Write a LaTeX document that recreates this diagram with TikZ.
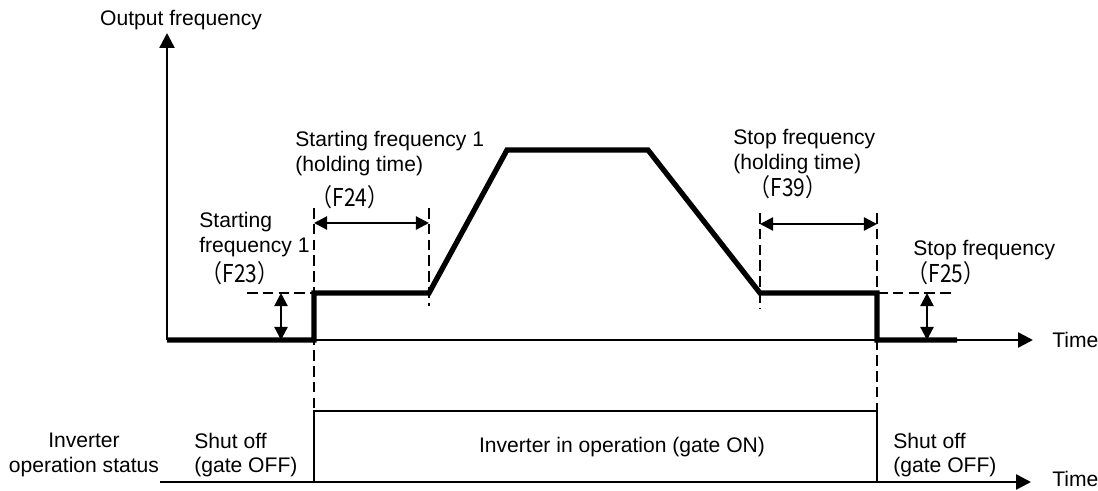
\documentclass[tikz,border=0pt]{standalone}
\usepackage{fontspec}
\setmainfont{Liberation Sans}
\newfontfamily\cjk[FakeStretch=0.85]{Noto Sans CJK JP}
\usetikzlibrary{positioning,calc,arrows.meta}

\tikzset{
  axis/.style={line width=1.4pt, -{Triangle[length=8.5pt,width=8.5pt]}},
  wave/.style={line width=3pt, line join=miter},
  guide/.style={line width=1.3pt, dash pattern=on 6pt off 3pt},
  span/.style={line width=1.3pt, {Triangle[length=7.5pt,width=7.5pt]}-{Triangle[length=7.5pt,width=7.5pt]}},
  lbl/.style={inner sep=0pt, align=left},
  code/.style={inner sep=0pt, font=\cjk\fontsize{14}{16}\selectfont},
}

\begin{document}
\begin{tikzpicture}[x=0.02cm, y=-0.02cm, font=\fontsize{12}{14}\selectfont]
  \useasboundingbox (0,0) rectangle (1098,490);

  % Frequency axes
  \coordinate (o) at (167,340);
  \coordinate (ytop) at (167,33);
  \coordinate (xend) at (1033,340);
  \draw[axis] (o) -- (ytop);
  \draw[axis] (o) -- (xend);
  \node (ylab) at (181,20) {Output frequency};
  \node[anchor=west, inner sep=0pt] (xlab) at (1052,340) {Time};

  % Output frequency curve
  \coordinate (s0) at (314,340);
  \coordinate (s1) at (314,293);
  \coordinate (s2) at (429,293);
  \coordinate (p1) at (507,150);
  \coordinate (p2) at (648,150);
  \coordinate (e1) at (760,293);
  \coordinate (e2) at (877,293);
  \coordinate (e0) at (877,340);
  \coordinate (e3) at (957,340);
  \draw[wave] (o) -- (s0) -- (s1) -- (s2) -- (p1) -- (p2) -- (e1) -- (e2) -- (e0) -- (e3);

  % Guides
  \coordinate (g1) at (314,208);
  \coordinate (g1b) at (314,411);
  \coordinate (g2) at (429,208);
  \coordinate (g2b) at (429,306);
  \coordinate (g3) at (760,213);
  \coordinate (g3b) at (760,308);
  \coordinate (g4) at (877,213);
  \coordinate (g4b) at (877,411);
  \coordinate (h1) at (247,293);
  \coordinate (h2) at (955,293);
  \draw[guide] (g1) -- (g1b);
  \draw[guide] (g2) -- (g2b);
  \draw[guide] (g3) -- (g3b);
  \draw[guide] (g4) -- (g4b);
  \draw[guide] (h1) -- (s1);
  \draw[guide] (e2) -- (h2);

  % Holding times and levels
  \coordinate (a1) at (314,223);
  \coordinate (a2) at (429,223);
  \coordinate (b1) at (760,224);
  \coordinate (b2) at (877,224);
  \coordinate (c1) at (281,293);
  \coordinate (c2) at (281,340);
  \coordinate (d1) at (927,293);
  \coordinate (d2) at (927,340);
  \draw[span] (a1) -- (a2);
  \draw[span] (b1) -- (b2);
  \draw[span] (c1) -- (c2);
  \draw[span] (d1) -- (d2);

  \node[lbl, anchor=west] (sfh) at (295,153.5) {Starting frequency 1\\(holding time)};
  \node[code] (f24) at (350,197) {（F24）};
  \node[lbl, anchor=west] (sf) at (199,234.5) {Starting\\frequency 1};
  \node[code] (f23) at (240,273) {（F23）};
  \node[lbl, anchor=west] (stph) at (733,151.5) {Stop frequency\\(holding time)};
  \node[code] (f39) at (788,187) {（F39）};
  \node[lbl, anchor=west] (stp) at (913,250) {Stop frequency};
  \node[code] (f25) at (946,273) {（F25）};

  % Operation status
  \coordinate (q0) at (160,482);
  \coordinate (qend) at (1031,482);
  \coordinate (r0) at (314,482);
  \coordinate (r1) at (314,411);
  \coordinate (r2) at (877,411);
  \coordinate (r3) at (877,482);
  \draw[axis] (q0) -- (qend);
  \draw[line width=1.4pt] (r0) -- (r1) -- (r2) -- (r3);
  \node[inner sep=0pt, align=center] (ios) at (84,455) {Inverter\\operation status};
  \node[lbl, anchor=west] (off1) at (194,455) {Shut off\\(gate OFF)};
  \node (run) at (622,447) {Inverter in operation (gate ON)};
  \node[lbl, anchor=west] (off2) at (893,455) {Shut off\\(gate OFF)};
  \node[anchor=west, inner sep=0pt] (qlab) at (1052,479) {Time};
\end{tikzpicture}
\end{document}
